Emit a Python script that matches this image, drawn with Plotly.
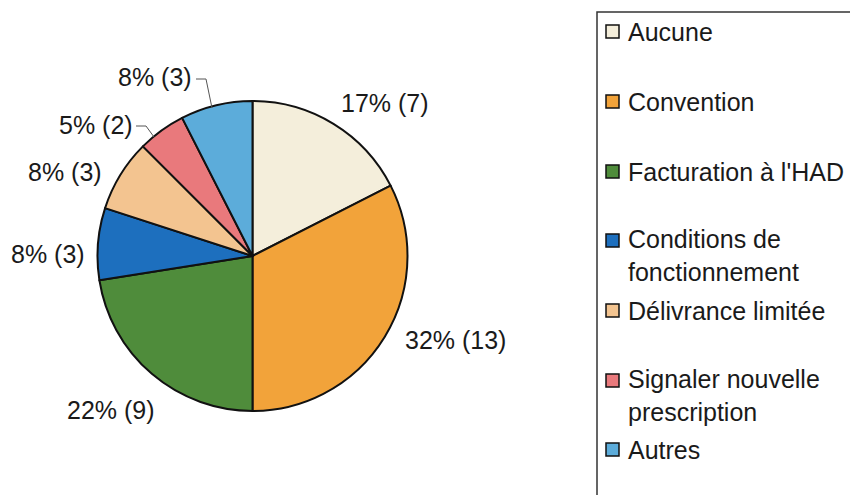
import plotly.graph_objects as go

# Reasons reported (counts) and their rounded shares
categories = [
    "Aucune",
    "Convention",
    "Facturation à l'HAD",
    "Conditions de<br>fonctionnement",
    "Délivrance limitée",
    "Signaler nouvelle<br>prescription",
    "Autres",
]
counts = [7, 13, 9, 3, 3, 2, 3]
percents = [17, 32, 22, 8, 8, 5, 8]
colors = ["#F4EEDB", "#F2A33A", "#4F8C3B", "#1D6FBE", "#F3C490", "#E9797C", "#5CACDA"]

W, H = 850, 495
FONT = "Liberation Sans, Arial, sans-serif"
FS = 25


def px(x, y):
    """Pixel position -> paper coordinates."""
    return x / W, 1 - y / H


fig = go.Figure()

cx, cy, r = 252.5, 256, 155
x0, y1 = px(cx - r, cy - r)
x1, y0 = px(cx + r, cy + r)
fig.add_trace(go.Pie(
    labels=categories,
    values=counts,
    sort=False,
    direction="clockwise",
    rotation=0,
    marker=dict(colors=colors, line=dict(color="#111111", width=2)),
    textinfo="none",
    hoverinfo="label+value+percent",
    showlegend=False,
    domain=dict(x=[x0, x1], y=[y0, y1]),
))

# Slice labels placed around the pie
label_pos = [(385, 103), (455, 340), (111, 410), (48, 254), (65, 172), (96, 125), (155, 77)]
annotations = []
for (lx, ly), p, c in zip(label_pos, percents, counts):
    ax_, ay_ = px(lx, ly)
    annotations.append(dict(
        x=ax_, y=ay_, xref="paper", yref="paper",
        text=f"{p}% ({c})", showarrow=False,
        xanchor="center", yanchor="middle",
        font=dict(family=FONT, size=FS, color="#1a1a1a"),
    ))

shapes = []
# Leader lines for the two small upper-left slices
leaders = [
    [(196, 79), (206, 79), (212, 108)],
    [(136, 126), (146, 126), (154, 137)],
]
for pts in leaders:
    p = [px(*q) for q in pts]
    path = "M {} {} ".format(*p[0]) + " ".join("L {} {}".format(*q) for q in p[1:])
    shapes.append(dict(type="path", path=path, xref="paper", yref="paper",
                       line=dict(color="#555555", width=1)))

# Legend frame
lx0, ly1 = px(597, 12)
lx1, ly0 = px(870, 520)
shapes.append(dict(type="rect", xref="paper", yref="paper",
                   x0=lx0, x1=lx1, y0=ly0, y1=ly1,
                   line=dict(color="#333333", width=1.5), fillcolor="rgba(0,0,0,0)"))

# Legend entries: first-line row of each item
legend_rows = [32, 102, 172, 241, 311, 381, 450]
line_gap = 29
for name, col, row in zip(categories, colors, legend_rows):
    sx0, sy1 = px(606, row - 7)
    sx1, sy0 = px(619, row + 6)
    shapes.append(dict(type="rect", xref="paper", yref="paper",
                       x0=sx0, x1=sx1, y0=sy0, y1=sy1,
                       fillcolor=col, line=dict(color="#111111", width=1.5)))
    nlines = name.count("<br>") + 1
    tx, ty = px(626, row + (nlines - 1) * line_gap / 2)
    annotations.append(dict(
        x=tx, y=ty, xref="paper", yref="paper",
        text=name, showarrow=False, align="left",
        xanchor="left", yanchor="middle",
        font=dict(family=FONT, size=FS, color="#1a1a1a"),
    ))

fig.update_layout(
    width=W, height=H,
    margin=dict(l=0, r=0, t=0, b=0),
    paper_bgcolor="white",
    plot_bgcolor="white",
    annotations=annotations,
    shapes=shapes,
)

fig.write_html("out.html")
